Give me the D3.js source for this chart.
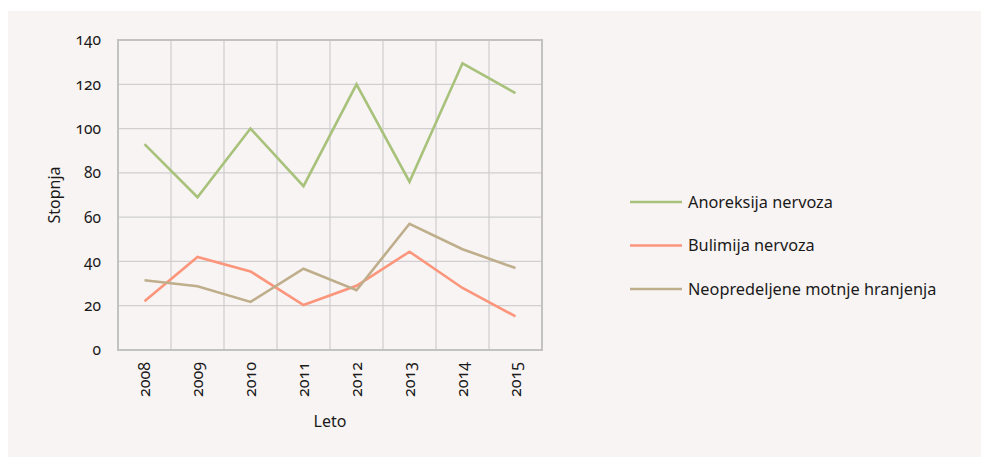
<!DOCTYPE html>
<html>
<head>
<meta charset="utf-8">
<script src="https://cdn.jsdelivr.net/npm/d3@7/dist/d3.min.js"></script>
<style>
  html, body { margin: 0; padding: 0; background: #ffffff; }
  svg text { font-family: "Noto Sans", "Open Sans", sans-serif; font-variant-numeric: oldstyle-nums; fill: #1a1a1a; }
</style>
</head>
<body>
<svg id="chart" width="981" height="457"></svg>
<script>
const years = ["2008", "2009", "2010", "2011", "2012", "2013", "2014", "2015"];
const anoreksija = [93, 69, 100, 74, 120, 76, 129.5, 116];
const bulimija = [22, 42, 35.5, 20.3, 29, 44.4, 28, 15.2];
const neopredeljene = [31.5, 28.8, 21.7, 36.7, 27, 57, 45.5, 37];
const seriesNames = ["Anoreksija nervoza", "Bulimija nervoza", "Neopredeljene motnje hranjenja"];
const seriesColors = ["#a8c27c", "#fb967c", "#bfae8b"];
const yTicks = [0, 20, 40, 60, 80, 100, 120, 140];

const series = [anoreksija, bulimija, neopredeljene].map((vals, i) => ({
  name: seriesNames[i], color: seriesColors[i],
  values: vals.map((v, j) => ({ year: years[j], value: v }))
}));

const svg = d3.select("#chart");

// panel background
svg.append("rect").attr("x", 8).attr("y", 11).attr("width", 973).attr("height", 446)
  .attr("fill", "#f8f4f3");

const plot = { left: 118, right: 542, top: 40, bottom: 350 };

const x = d3.scaleBand().domain(years).range([plot.left, plot.right]);
const y = d3.scaleLinear().domain([0, 140]).range([plot.bottom, plot.top]);

// grid
const g = svg.append("g");
g.selectAll("line.h").data(yTicks).join("line")
  .attr("x1", plot.left).attr("x2", plot.right)
  .attr("y1", d => y(d)).attr("y2", d => y(d))
  .attr("stroke", "#cfcfcf").attr("stroke-width", 1.3);
g.selectAll("line.v").data(years).join("line")
  .attr("x1", d => x(d)).attr("x2", d => x(d))
  .attr("y1", plot.top).attr("y2", plot.bottom)
  .attr("stroke", "#cfcfcf").attr("stroke-width", 1.3);

// frame
g.append("rect").attr("x", plot.left).attr("y", plot.top)
  .attr("width", plot.right - plot.left).attr("height", plot.bottom - plot.top)
  .attr("fill", "none").attr("stroke", "#c2c2c2").attr("stroke-width", 2);

// y axis labels
const yAxis = d3.axisLeft(y).tickValues(yTicks).tickSize(0).tickPadding(17);
svg.append("g").attr("transform", `translate(${plot.left},0)`).call(yAxis)
  .call(s => s.select(".domain").remove())
  .call(s => s.selectAll("text").attr("font-size", 15.5).attr("fill", "#1a1a1a")
    .style("font-family", "'Noto Sans', sans-serif"));

// x axis labels (rotated)
const xAxis = d3.axisBottom(x).tickSize(0).tickPadding(0);
svg.append("g").attr("transform", `translate(0,${plot.bottom})`).call(xAxis)
  .call(s => s.select(".domain").remove())
  .call(s => s.selectAll("text")
    .attr("font-size", 16).attr("fill", "#1a1a1a")
    .style("font-family", "'Noto Sans', sans-serif")
    .attr("text-anchor", "end").attr("dy", "0.35em")
    .attr("transform", "translate(0,12) rotate(-90)")
    .attr("x", 0).attr("y", 0));

// axis titles
svg.append("text").attr("transform", `translate(60,${(plot.top + plot.bottom) / 2}) rotate(-90)`)
  .attr("text-anchor", "middle").attr("font-size", 16).text("Stopnja");
svg.append("text").attr("x", (plot.left + plot.right) / 2).attr("y", 427)
  .attr("text-anchor", "middle").attr("font-size", 16).text("Leto");

// lines
const line = d3.line().x(d => x(d.year) + x.bandwidth() / 2).y(d => y(d.value));
svg.append("g").selectAll("path").data(series).join("path")
  .attr("d", d => line(d.values))
  .attr("fill", "none").attr("stroke", d => d.color)
  .attr("stroke-width", 2.6).attr("stroke-linejoin", "miter");

// legend
const legend = svg.append("g").selectAll("g").data(series).join("g")
  .attr("transform", (d, i) => `translate(630,${202 + i * 43.5})`);
legend.append("line").attr("x1", 0).attr("x2", 52).attr("y1", 0).attr("y2", 0)
  .attr("stroke", d => d.color).attr("stroke-width", 2.6);
legend.append("text").attr("x", 58).attr("y", 0).attr("dy", "0.35em")
  .attr("font-size", 16.3).text(d => d.name);
</script>
</body>
</html>
